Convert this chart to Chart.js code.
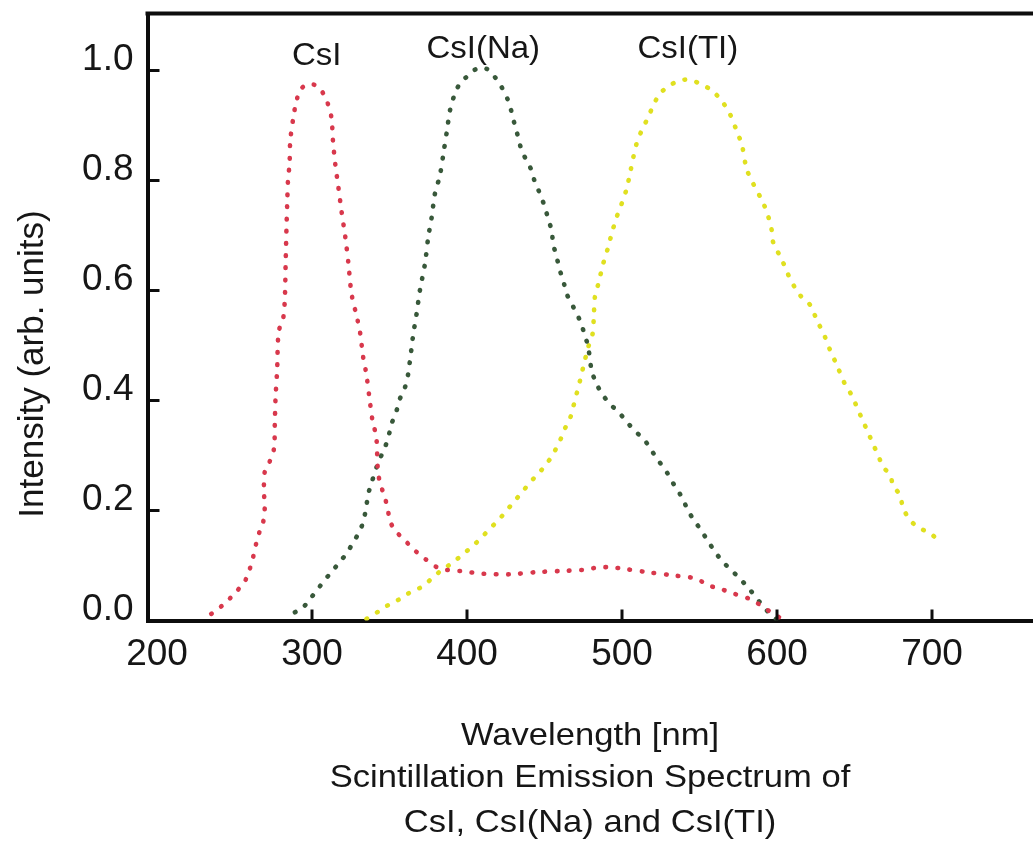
<!DOCTYPE html>
<html><head><meta charset="utf-8">
<script src="https://cdn.jsdelivr.net/npm/chart.js@4.4.1/dist/chart.umd.min.js"></script>
<style>
html,body{margin:0;padding:0;background:#fff;overflow:hidden;width:1033px;height:841px}
#wrap{position:absolute;left:0;top:0;width:1040px;height:841px}
canvas{display:block}
</style></head>
<body><div id="wrap"><canvas id="c" width="1040" height="841"></canvas></div>
<script>
// ---- data ----
const seriesNames = ['CsI', 'CsI(Na)', 'CsI(TI)'];
const xTickValues = [200, 300, 400, 500, 600, 700];
const yTickValues = [0, 0.2, 0.4, 0.6, 0.8, 1.0];
const xTitleLines = ['Wavelength [nm]', 'Scintillation Emission Spectrum of', 'CsI, CsI(Na) and CsI(TI)'];
const yTitle = 'Intensity (arb. units)';

const csiWavelength = [235,242,247,252,257,260,262,264,266,268.5,269.5,269,269.5,273,275.5,276,276.5,277.5,278.5,281.5,282.5,283,283.5,284,284.5,285.5,286,288,290,293,299,305,309.5,312.5,313.5,315,317,319,321.5,323.5,325.5,329,331,333,335,337,339,341.5,342.5,344,347,349,350.5,354.5,360.5,366.5,373,380.5,387,395.5,410.5,427.5,445,460,475,483.5,492,501,516,533,548,555.5,563,572,582.5,591,597.5,602];
const csiIntensity = [0.012,0.027,0.04,0.055,0.073,0.095,0.115,0.14,0.16,0.179,0.204,0.236,0.27,0.291,0.313,0.358,0.406,0.455,0.525,0.551,0.588,0.649,0.709,0.758,0.8,0.83,0.873,0.915,0.945,0.967,0.976,0.967,0.945,0.915,0.873,0.83,0.788,0.745,0.697,0.649,0.594,0.551,0.524,0.479,0.449,0.406,0.364,0.333,0.273,0.249,0.224,0.2,0.179,0.161,0.144,0.127,0.112,0.097,0.092,0.09,0.085,0.084,0.088,0.09,0.092,0.096,0.097,0.094,0.088,0.082,0.076,0.064,0.058,0.049,0.039,0.025,0.012,0.005];

const csiNaWavelength = [289,294.3,298.7,304,307.2,311.6,316.9,322.3,326.6,330.5,333,334.8,336.3,338.5,341.7,343.8,347.1,349.2,351.4,354.6,356.7,360,362.1,363.2,364.3,365.3,367.5,369.6,372.9,375,377.2,379.3,382.5,385.1,387.1,389,392.2,395.4,400.8,406.2,412.7,418,422.3,426.6,428.8,430.9,433,435.2,438.5,441.7,443.8,447.1,450.3,452.4,454.6,455.6,457.8,460,462.1,464.3,468.6,472.9,476.1,478.2,480.4,483.6,487.9,492.2,498.7,504,509.4,514.8,519.1,523.4,528.8,533.1,537.4,540.6,543.8,548.1,552.4,556.7,561,565.3,571.8,576.1,582.5,589,595.5,599.8];
const csiNaIntensity = [0.015,0.024,0.039,0.058,0.07,0.085,0.103,0.122,0.142,0.161,0.179,0.203,0.23,0.251,0.279,0.294,0.315,0.333,0.358,0.382,0.403,0.424,0.449,0.473,0.497,0.52,0.558,0.6,0.649,0.697,0.733,0.776,0.809,0.855,0.891,0.927,0.958,0.976,0.991,1.003,1.003,0.988,0.97,0.945,0.924,0.9,0.879,0.855,0.836,0.818,0.797,0.776,0.751,0.73,0.709,0.685,0.661,0.636,0.618,0.594,0.57,0.545,0.518,0.497,0.455,0.43,0.409,0.394,0.376,0.358,0.342,0.327,0.309,0.291,0.27,0.249,0.23,0.212,0.194,0.176,0.158,0.139,0.121,0.106,0.088,0.076,0.056,0.033,0.012,0.002];

const csiTlWavelength = [335.2,343.8,350.3,356.7,363.2,370.7,377.2,382.5,391.1,397.6,404,409.4,414.8,420.1,425.6,430.9,436.3,440.6,446,451.4,455.6,460,463.2,466.4,468.5,470.7,472.9,475,478.2,481,481.8,482.5,484.7,487.9,491.1,493.3,496.5,499.8,503,505.1,507.3,509.4,512.7,516.9,520.1,524.5,530.9,537.4,543.8,550.3,557.8,564.3,569.6,573.9,577.4,580.4,584.7,591.1,594.3,596.5,597.6,603,607.2,611.6,615.9,621.3,625.6,630.9,634.2,638.5,643.8,648.1,651.4,654.6,658.9,662.1,665.3,668.5,672.9,675,679.3,681.4,685.8,691.1,698.7,705.1];
const csiTlIntensity = [0.003,0.018,0.03,0.039,0.051,0.061,0.076,0.089,0.106,0.121,0.136,0.151,0.167,0.182,0.2,0.218,0.236,0.251,0.267,0.285,0.303,0.327,0.349,0.367,0.388,0.412,0.436,0.461,0.497,0.521,0.551,0.588,0.612,0.649,0.679,0.703,0.733,0.758,0.785,0.812,0.842,0.867,0.891,0.915,0.936,0.958,0.973,0.982,0.983,0.976,0.964,0.945,0.921,0.891,0.864,0.821,0.794,0.759,0.735,0.711,0.687,0.657,0.629,0.605,0.588,0.574,0.547,0.516,0.492,0.465,0.43,0.41,0.389,0.368,0.341,0.32,0.3,0.279,0.265,0.245,0.228,0.204,0.183,0.169,0.159,0.142];

// ---- styling ----
const FONT = '"Liberation Sans", Arial, Helvetica, sans-serif';
const TEXT = '#161616';
const AXIS = '#0d0d0d';
const colors = ['#d8384c', '#38583a', '#e0e020'];

const toPoints = (xs, ys) => xs.map((x, i) => ({x, y: ys[i]}));
const seriesData = [
  toPoints(csiWavelength, csiIntensity),
  toPoints(csiNaWavelength, csiNaIntensity),
  toPoints(csiTlWavelength, csiTlIntensity)
];
// label anchors in data coordinates (nm, intensity)
const labelAnchors = [[303, 1.01], [410.5, 1.022], [542.5, 1.022]];

function drawText(ctx, text, x, y, size, sx) {
  ctx.save();
  ctx.translate(x, y);
  ctx.scale(sx, 1);
  ctx.font = size + 'px ' + FONT;
  ctx.fillStyle = TEXT;
  ctx.textAlign = 'center';
  ctx.textBaseline = 'alphabetic';
  ctx.fillText(text, 0, 0);
  ctx.restore();
}

const decor = {
  id: 'decor',
  afterDraw(chart) {
    const {ctx, chartArea: a, scales: {x, y}} = chart;
    ctx.save();
    ctx.strokeStyle = AXIS;
    ctx.lineWidth = 4;
    ctx.lineCap = 'butt';
    // top frame
    ctx.beginPath();
    ctx.moveTo(a.left - 2, a.top);
    ctx.lineTo(a.right + 5, a.top);
    ctx.stroke();
    // inward ticks
    ctx.lineWidth = 3;
    xTickValues.forEach(v => {
      if (v <= x.min + 10) return;
      const px = x.getPixelForValue(v);
      ctx.beginPath(); ctx.moveTo(px, a.bottom); ctx.lineTo(px, a.bottom - 11); ctx.stroke();
    });
    yTickValues.forEach(v => {
      if (v <= 0) return;
      const py = y.getPixelForValue(v);
      ctx.beginPath(); ctx.moveTo(a.left, py); ctx.lineTo(a.left + 12, py); ctx.stroke();
    });
    ctx.restore();
    // series labels
    seriesNames.forEach((n, i) => {
      drawText(ctx, n, x.getPixelForValue(labelAnchors[i][0]), y.getPixelForValue(labelAnchors[i][1]), 32, 1.03);
    });
    // x title (multi-line)
    const cx = 590;
    const baselines = [745, 787, 832];
    xTitleLines.forEach((t, i) => drawText(ctx, t, cx, baselines[i], 32, 1.08));
    // y title
    ctx.save();
    ctx.translate(43, 364);
    ctx.rotate(-Math.PI / 2);
    ctx.font = '35px ' + FONT;
    ctx.fillStyle = TEXT;
    ctx.textAlign = 'center';
    ctx.textBaseline = 'alphabetic';
    ctx.fillText(yTitle, 0, 0);
    ctx.restore();
  }
};

const LEFT = 147.5, BOTTOM = 620.5, TOP = 13.5, W = 1040, H = 841;
const PX_PER_NM = 1.55;
const xMin = 200 - (157 - LEFT) / PX_PER_NM;
const xMax = xMin + (W - LEFT) / PX_PER_NM;
const yMax = (BOTTOM - TOP) / 550;

new Chart(document.getElementById('c'), {
  type: 'line',
  data: {
    datasets: seriesData.map((d, i) => ({
      label: seriesNames[i],
      data: d,
      borderColor: colors[i],
      backgroundColor: colors[i],
      borderWidth: 4.6,
      borderDash: [0.6, 11.6],
      borderCapStyle: 'round',
      pointRadius: 0,
      tension: 0.3,
      fill: false
    }))
  },
  options: {
    responsive: false,
    animation: false,
    devicePixelRatio: 1,
    layout: {padding: {left: 0, right: 0, top: TOP, bottom: 0}},
    plugins: {legend: {display: false}, tooltip: {enabled: false}, title: {display: false}},
    scales: {
      x: {
        type: 'linear',
        min: xMin, max: xMax,
        afterBuildTicks(s) { s.ticks = xTickValues.map(v => ({value: v})); },
        afterFit(s) { s.height = H - BOTTOM; s.paddingLeft = 0; s.paddingRight = 0; },
        ticks: {
          autoSkip: false, maxRotation: 0, padding: 12,
          color: TEXT, font: {family: FONT, size: 37},
          callback: v => String(v)
        },
        grid: {display: false, drawTicks: false},
        border: {display: true, color: AXIS, width: 4}
      },
      y: {
        type: 'linear',
        min: 0, max: yMax,
        afterBuildTicks(s) { s.ticks = yTickValues.map(v => ({value: v})); },
        afterFit(s) { s.width = LEFT; s.paddingTop = 0; s.paddingBottom = 0; },
        ticks: {
          autoSkip: false, padding: 14, labelOffset: -11,
          color: TEXT, font: {family: FONT, size: 37},
          callback: v => Number(v).toFixed(1)
        },
        grid: {display: false, drawTicks: false},
        border: {display: true, color: AXIS, width: 4}
      }
    }
  },
  plugins: [decor]
});
</script>
</body></html>
